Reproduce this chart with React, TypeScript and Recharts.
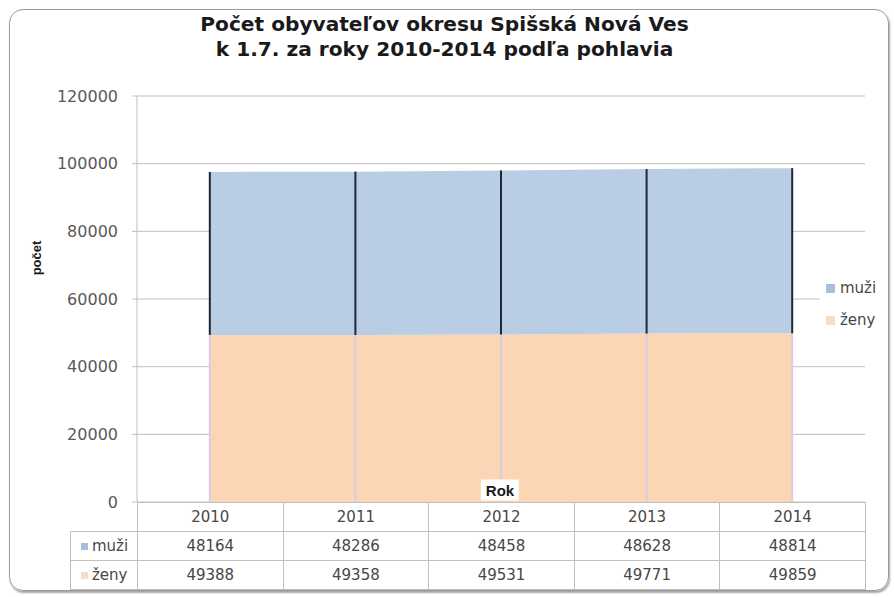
import { Area, AreaChart, CartesianGrid, ReferenceLine, XAxis, YAxis } from "recharts";

// hodnoty prečítané z tabuľky pod grafom
const YEARS = ["2010", "2011", "2012", "2013", "2014"];
const MUZI = [48164, 48286, 48458, 48628, 48814];
const ZENY = [49388, 49358, 49531, 49771, 49859];
const Y_TICKS = [0, 20000, 40000, 60000, 80000, 100000, 120000];

const TITLE_LINES = ["Počet obyvateľov okresu Spišská Nová Ves", "k 1.7. za roky 2010-2014 podľa pohlavia"];

// poradie = poradie v legende a v tabuľke; ženy sa kreslia dole, muži navrch
const SERIES = [
  { key: "muzi", name: "muži", values: MUZI, color: "#b9cde5", mark: "#a7bfdd" },
  { key: "zeny", name: "ženy", values: ZENY, color: "#fcd5b5", mark: "#f9dcc4" },
];

const rows = YEARS.map((year, i) => ({ year, muzi: MUZI[i], zeny: ZENY[i] }));

const W = 894;
const H = 597;
const PLOT_LEFT = 137;
const PLOT_RIGHT = 865;
const PLOT_TOP = 96;
const PLOT_BOTTOM = 502;
const COL_W = (PLOT_RIGHT - PLOT_LEFT) / YEARS.length;
const LABEL_COL = 67;
const ROW_H = 28;

const TEXT = "#474747";
const GRID = "#bfbfbf";
const FONT = "'DejaVu Sans', sans-serif";

const cell = {
  border: `1px solid ${GRID}`,
  height: ROW_H,
  padding: 0,
  textAlign: "center" as const,
  fontSize: 15,
  color: TEXT,
};

function DataTable() {
  return (
    <table
      style={{
        position: "absolute",
        left: PLOT_LEFT - LABEL_COL,
        top: PLOT_BOTTOM,
        width: LABEL_COL + COL_W * YEARS.length,
        borderCollapse: "collapse",
        tableLayout: "fixed",
        fontFamily: FONT,
      }}
    >
      <colgroup>
        <col style={{ width: LABEL_COL }} />
        {YEARS.map((y) => <col key={y} style={{ width: COL_W }} />)}
      </colgroup>
      <tbody>
        <tr>
          <td style={{ ...cell, border: "none" }} />
          {YEARS.map((y) => <td key={y} style={cell}>{y}</td>)}
        </tr>
        {SERIES.map((s) => (
          <tr key={s.key}>
            <td style={{ ...cell, textAlign: "left", paddingLeft: 10 }}>
              <span style={{ display: "inline-block", width: 7, height: 7, background: s.mark, marginRight: 4, verticalAlign: "middle" }} />
              {s.name}
            </td>
            {s.values.map((v, i) => <td key={i} style={cell}>{v}</td>)}
          </tr>
        ))}
      </tbody>
    </table>
  );
}

export default function App() {
  return (
    <div style={{ position: "absolute", left: 0, top: 0, width: W, height: H, background: "#fff", fontFamily: FONT }}>
      <div
        style={{
          position: "absolute",
          left: 9,
          top: 9,
          width: 878,
          height: 580,
          border: "1.5px solid #9a9a9a",
          borderRadius: 14,
          boxShadow: "1px 2px 2px rgba(0,0,0,0.35)",
        }}
      />
      {/* titulok je v predlohe roztiahnutý do šírky, preto scaleX */}
      <div
        style={{
          position: "absolute",
          left: 0,
          top: 12,
          width: 889,
          textAlign: "center",
          fontWeight: "bold",
          fontSize: 19,
          lineHeight: "25px",
          color: "#1a1a1a",
          transform: "scaleX(1.06)",
        }}
      >
        {TITLE_LINES.map((t) => <div key={t}>{t}</div>)}
      </div>

      <div style={{ position: "absolute", left: 0, top: 0 }}>
        <AreaChart width={W} height={H} data={rows} margin={{ top: PLOT_TOP, right: W - PLOT_RIGHT, bottom: H - PLOT_BOTTOM, left: 0 }}>
          <CartesianGrid vertical={false} stroke={GRID} />
          <XAxis dataKey="year" hide padding={{ left: COL_W / 2, right: COL_W / 2 }} />
          <YAxis
            width={PLOT_LEFT}
            domain={[0, 120000]}
            ticks={Y_TICKS}
            interval={0}
            tickSize={5}
            tickMargin={14}
            stroke={GRID}
            tick={{ fill: "#595959", fontSize: 16, fontFamily: FONT }}
          />
          <Area type="linear" dataKey="zeny" name="ženy" stackId="1" stroke="none" fill="#fcd5b5" fillOpacity={1} dot={false} activeDot={false} isAnimationActive={false} />
          <Area type="linear" dataKey="muzi" name="muži" stackId="1" stroke="none" fill="#b9cde5" fillOpacity={1} dot={false} activeDot={false} isAnimationActive={false} />
          {rows.map((r) => (
            <ReferenceLine
              key={`lo-${r.year}`}
              segment={[{ x: r.year, y: 0 }, { x: r.year, y: r.zeny }]}
              stroke="#d4cde4"
              strokeWidth={2}
            />
          ))}
          {rows.map((r) => (
            <ReferenceLine
              key={`hi-${r.year}`}
              segment={[{ x: r.year, y: r.zeny }, { x: r.year, y: r.zeny + r.muzi }]}
              stroke="#1e2733"
              strokeWidth={2}
            />
          ))}
        </AreaChart>
      </div>

      <div
        style={{
          position: "absolute",
          left: 36,
          top: 258,
          transform: "translate(-50%, -50%) rotate(-90deg)",
          fontFamily: "'Liberation Sans', Arial, sans-serif",
          fontWeight: "bold",
          fontSize: 13,
          color: "#1a1a1a",
        }}
      >
        počet
      </div>

      <div
        style={{
          position: "absolute",
          left: 500,
          top: 490,
          transform: "translate(-50%, -50%)",
          background: "#fff",
          padding: "2px 5px",
          fontFamily: "'Liberation Sans', Arial, sans-serif",
          fontWeight: "bold",
          fontSize: 15,
          color: "#1a1a1a",
        }}
      >
        Rok
      </div>

      <div style={{ position: "absolute", left: 820, top: 272, width: 66, height: 66, background: "#fff", fontSize: 15, color: TEXT }}>
        {SERIES.map((s, i) => (
          <div key={s.key} style={{ position: "absolute", left: 6, top: 6 + i * 32, height: 20, display: "flex", alignItems: "center" }}>
            <span style={{ width: 9, height: 9, background: s.mark, marginRight: 5 }} />
            {s.name}
          </div>
        ))}
      </div>

      <DataTable />
    </div>
  );
}
